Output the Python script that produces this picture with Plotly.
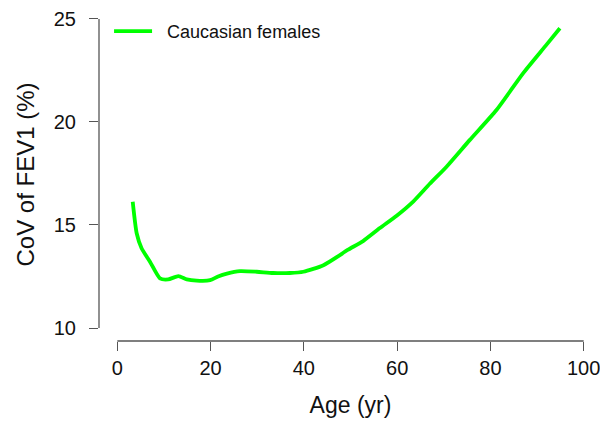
import plotly.graph_objects as go

age = [3.3, 4.15, 5.2, 7.0, 9.15, 10.9, 13.1, 14.9, 17.0, 19.9, 21.6, 23.5,
       26.3, 29.9, 33.4, 37.0, 39.9, 44.2, 49.5, 52.7, 56.3, 59.9, 63.5, 67.0, 70.6, 75.6,
       81.3, 87.0, 92.0, 94.9]
cov = [16.13, 14.6, 13.87, 13.22, 12.41, 12.36, 12.52, 12.36, 12.30, 12.32, 12.50, 12.64,
       12.76, 12.73, 12.67, 12.67, 12.73, 13.05, 13.80, 14.22, 14.85, 15.45, 16.15, 17.0,
       17.83, 19.13, 20.58, 22.36, 23.74, 24.55]
series_name = "Caucasian females"
x_ticks = [0, 20, 40, 60, 80, 100]
y_ticks = [10, 15, 20, 25]

axis_col = "#555555"
font_fam = "Liberation Sans, Arial, sans-serif"

fig = go.Figure()
fig.add_trace(go.Scatter(x=age, y=cov, mode="lines", name="\u00a0\u00a0" + series_name,
                         line=dict(color="#00ff00", width=3.8, shape="spline", smoothing=0.6)))

# page is rendered with an 8px body margin, so the figure is 600x418
fig.update_layout(
    width=600, height=418,
    margin=dict(l=91, r=6, t=0, b=85, autoexpand=False),
    plot_bgcolor="white", paper_bgcolor="white",
    font=dict(family=font_fam, color="#111111"),
    showlegend=True,
    legend=dict(x=0.02, y=0.985, xanchor="left", yanchor="top", itemwidth=38,
                font=dict(size=18, family=font_fam), bgcolor="rgba(0,0,0,0)"),
    xaxis=dict(range=[-3.93, 103.93], tickvals=x_ticks, ticks="outside", ticklen=9,
               tickcolor=axis_col, tickwidth=1.3, showgrid=False, zeroline=False,
               showline=False, tickfont=dict(size=20), automargin=False,
               ticklabeloverflow="allow",
               title=dict(text="Age (yr)", font=dict(size=23), standoff=18)),
    yaxis=dict(range=[9.37, 25.53], tickvals=y_ticks, ticks="outside", ticklen=9,
               tickcolor=axis_col, tickwidth=1.3, showgrid=False, zeroline=False,
               showline=False, tickfont=dict(size=20), automargin=False,
               ticklabelstandoff=9, ticklabeloverflow="allow",
               title=dict(text="CoV of FEV1 (%)", font=dict(size=24), standoff=12)),
)

# R-style axis lines spanning first to last tick
fig.add_shape(type="line", xref="x", yref="paper", x0=x_ticks[0], x1=x_ticks[-1], y0=0, y1=0,
              line=dict(color=axis_col, width=1.3))
fig.add_shape(type="line", xref="paper", yref="y", x0=0, x1=0, y0=y_ticks[0], y1=y_ticks[-1],
              line=dict(color=axis_col, width=1.3))

fig.write_html("out.html")
